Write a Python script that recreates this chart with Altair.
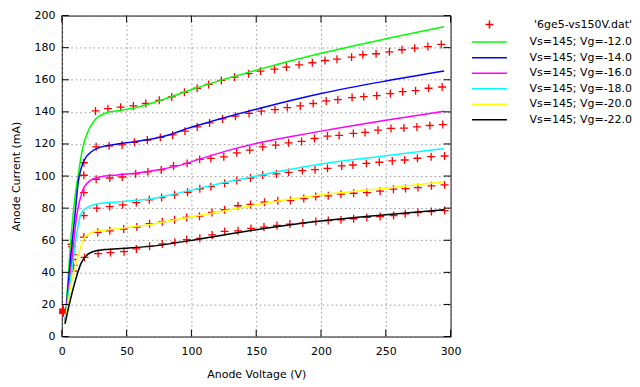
import altair as alt
import pandas as pd

DATA_LABEL = "'6ge5-vs150V.dat'"
MODEL_LABELS = ["Vs=145; Vg=-12.0", "Vs=145; Vg=-14.0", "Vs=145; Vg=-16.0",
                "Vs=145; Vg=-18.0", "Vs=145; Vg=-20.0", "Vs=145; Vg=-22.0"]
COLORS = ["#ff0000", "#00ff00", "#0000ff", "#ff00ff", "#00ffff", "#ffff00", "#000000"]

X_TICKS = [0, 50, 100, 150, 200, 250, 300]
Y_TICKS = [0, 20, 40, 60, 80, 100, 120, 140, 160, 180, 200]

# measured points (anode voltage, anode current) for each grid voltage
G_X = [1, 7.5, 17, 26, 35.6, 45.4, 55.2, 64.8, 75.2, 84.8, 94.6, 104.4, 113.3, 123.1, 133.3, 144.1,
       153.3, 164.1, 173.3, 183.1, 193.3, 203.1, 212.3, 223.6, 232.3, 242.5, 252.8, 262.5, 272.3, 282.5, 292.8]
G_Y = [17, 57.5, 108.3, 140.6, 142, 142.9, 143.7, 145.2, 147.2, 149.3, 152.2, 154.7, 157.1, 159.6, 161.7, 163.8,
       165.4, 166.6, 167.9, 169.3, 170.6, 172, 172.8, 174.1, 175.6, 176.2, 177.4, 178.7, 179.7, 180.7, 182]
B_X = [1, 8, 17, 26.5, 36.5, 46.5, 56, 66, 76, 85.5, 95, 104.5, 114, 124, 134, 144.5, 154, 164.5, 174, 184,
       194, 204, 213, 224, 233, 243, 253.5, 263, 273, 283, 293.5]
B_Y = [16.5, 56, 100.5, 118.2, 118.8, 119.4, 121, 122.4, 124.1, 125.6, 128, 130.6, 133.1, 135.6, 137.3, 139,
       140.4, 141.4, 142.7, 143.7, 145.2, 146.8, 147.6, 148.9, 149.5, 150.1, 151.4, 152.6, 153.2, 154.7, 155.5]
M_X = [1, 8.5, 17, 26.5, 37, 46.6, 57, 66.4, 76.7, 86.2, 96.7, 106.4, 115, 125, 135, 145, 155, 165, 175, 185,
       195, 205, 214, 225, 234, 244, 254, 264, 274, 284, 294]
M_Y = [16, 51, 89.7, 98, 98.8, 99.4, 101.3, 102.6, 103.8, 106.3, 107.9, 110.4, 111, 112, 114.5, 116.2, 118.2,
       119.3, 120.7, 121.6, 123.4, 124.9, 125.3, 126.6, 127.2, 128.6, 129.7, 129.9, 130.6, 131.5, 132.1]
C_X = [1, 8.5, 17, 27, 37, 47, 57.5, 67.5, 77, 87, 97, 106.5, 115, 125.6, 135, 145.6, 155, 165.6, 175, 185.6,
       195.4, 205, 216, 224.6, 235, 245, 255, 264.6, 274.4, 285, 295.4]
C_Y = [15.5, 48, 75.4, 80, 81, 82.1, 83.5, 85.2, 86.6, 88.3, 89.9, 92.1, 93.4, 95.5, 97.3, 98.8, 100.6, 101.3,
       102.3, 103.4, 104, 104.8, 106.3, 106.9, 107.9, 108.6, 109.4, 110, 111.1, 112.1, 112.5]
Y_X = [1, 9, 17, 27.7, 37, 47.7, 57.9, 67.7, 77.5, 87, 96.4, 106.2, 115.9, 125.6, 135.9, 145.6, 156.4, 166.7,
       176.4, 186.7, 195.9, 205.6, 215.4, 225.2, 235.4, 245.6, 255.9, 265.2, 274.8, 285.2, 295.4]
Y_Y = [15, 44.4, 62, 64.9, 65.9, 67, 68.2, 70.3, 71.5, 72.8, 74.2, 75, 77.3, 79, 81.5, 82.3, 83.7, 84.6, 84.7,
       86, 87.2, 87.7, 88.7, 89.3, 89.7, 90.6, 91.8, 92.2, 92.8, 93.9, 94.5]
K_X = [1, 9, 17.5, 28, 37.5, 48, 57.5, 67.7, 77.5, 87.2, 96.4, 106.5, 116, 125.6, 136, 146, 156, 166, 176, 186,
       196, 205.6, 215.4, 225.2, 235.4, 245.6, 256, 265, 274.8, 285.2, 295.4]
K_Y = [14.5, 40.7, 49.3, 51.7, 52.3, 52.9, 54.6, 56.2, 57.7, 58.7, 60.4, 61.2, 63.3, 65.5, 65.9, 67.4, 68.2,
       69.2, 70.1, 70.7, 71.7, 72.3, 72.7, 73.4, 74.2, 74.8, 75.4, 76.5, 77.3, 77.9, 78.5]

# model curves
G_MX = [2.5, 5, 7.5, 10, 12.5, 16, 20, 25, 33, 46, 59, 71.5, 84, 97, 110, 150, 200, 250, 295]
G_MY = [8, 38, 66, 86, 100, 117, 127.5, 134.5, 139, 141, 143, 146, 149.3, 153, 156.5, 166, 176.5, 185.5, 193]
B_MX = [2.5, 5, 7.5, 9.8, 12.8, 15, 17.4, 22.5, 30, 42, 55, 71.5, 85, 97, 110, 150, 200, 250, 295]
B_MY = [8, 33, 55, 73, 97, 105, 110, 115, 118, 119.8, 121.3, 123.4, 126.2, 129.7, 132.8, 141.6, 151.4, 159.2, 165.4]
M_MX = [2.5, 5, 8, 11.8, 15.6, 20.8, 30, 43, 55, 70, 90, 110, 130, 150, 175, 200, 250, 295]
M_MY = [8, 28, 50, 77, 90, 96.5, 99.5, 100.7, 101.6, 103.3, 106.5, 111.5, 116.3, 120.3, 124.3, 128, 134.8, 140.4]
C_MX = [2.5, 5, 8, 12.3, 15, 20, 25, 30.4, 45, 55, 71.5, 80.5, 108, 150, 200, 250, 295]
C_MY = [8, 25, 43, 68, 76.9, 80.5, 82.3, 83.1, 84, 84.7, 86.2, 87.7, 92.8, 100, 107.5, 112.7, 117.2]
Y_MX = [2.5, 5, 8, 12.6, 15, 17.7, 25.4, 35, 46, 55, 71.5, 80.5, 110, 150, 200, 250, 295]
Y_MY = [8, 22, 36, 50, 57, 62, 65.5, 66.5, 67.5, 68.5, 70.3, 71.8, 76, 82.1, 88.3, 92.4, 96.5]
K_MX = [2.5, 4.9, 10, 15, 22.8, 33, 48.5, 71.5, 110, 150, 200, 250, 295]
K_MY = [8, 17, 33.5, 45.9, 52.5, 54.2, 55, 56.5, 61.3, 66.6, 72, 75.9, 79]

meas = [(G_X, G_Y), (B_X, B_Y), (M_X, M_Y), (C_X, C_Y), (Y_X, Y_Y), (K_X, K_Y)]
models = [(G_MX, G_MY), (B_MX, B_MY), (M_MX, M_MY), (C_MX, C_MY), (Y_MX, Y_MY), (K_MX, K_MY)]

pts_rows = []
for i, (xs_, ys_) in enumerate(meas):
    for x, y in zip(xs_, ys_):
        pts_rows.append({"va": x, "ia": y, "series": DATA_LABEL, "grp": i})
pts_df = pd.DataFrame(pts_rows)

line_rows = []
for lab, (xs_, ys_) in zip(MODEL_LABELS, models):
    for x, y in zip(xs_, ys_):
        line_rows.append({"va": x, "ia": y, "series": lab})
lines_df = pd.DataFrame(line_rows)

DOMAIN = [DATA_LABEL] + MODEL_LABELS
PLUS = "M-0.8,0H0.8M0,-0.8V0.8"
DASH = "M-3.5,0H3.5"
SHAPES = [PLUS] + [DASH] * 6

FONT = "DejaVu Sans"
W, H = 390, 322

xs = alt.Scale(domain=[0, 300], nice=False)
ys = alt.Scale(domain=[0, 200], nice=False)
cscale = alt.Scale(domain=DOMAIN, range=COLORS)
sscale = alt.Scale(domain=DOMAIN, range=SHAPES)

legend = alt.Legend(title=None, orient="none", legendX=423, legendY=3,
                    labelAlign="right", labelOffset=137, symbolSize=100,
                    symbolStrokeWidth=1.5, rowPadding=4.6, labelFont=FONT,
                    labelFontSize=11, labelColor="#000000", padding=0)

X_AXIS = alt.Axis(values=X_TICKS, tickCount=7, labelPadding=9, titlePadding=12,
                  labelFlush=False, labelOverlap=False)
Y_AXIS = alt.Axis(values=Y_TICKS, tickCount=11, labelPadding=7, titlePadding=12,
                  labelFlush=False, labelOverlap=False, labelSeparation=0)
X_TITLE = "Anode Voltage (V)"
Y_TITLE = "Anode Current (mA)"

X = alt.X("va:Q", scale=xs, title=X_TITLE, axis=X_AXIS)
Y = alt.Y("ia:Q", scale=ys, title=Y_TITLE, axis=Y_AXIS)

points = alt.Chart(pts_df).mark_point(filled=False, strokeWidth=1.3, size=100, opacity=1).encode(
    x=X, y=Y,
    color=alt.Color("series:N", scale=cscale, legend=legend),
    shape=alt.Shape("series:N", scale=sscale, legend=legend),
    detail="grp:N",
)

lines = alt.Chart(lines_df).mark_line(interpolate="monotone", strokeWidth=1.5).encode(
    x=X, y=Y,
    color=alt.Color("series:N", scale=cscale, legend=legend),
)

yt = pd.DataFrame({"v": Y_TICKS})
xt = pd.DataFrame({"v": X_TICKS})
YT = alt.Y("v:Q", scale=ys, title=Y_TITLE, axis=Y_AXIS)
XT = alt.X("v:Q", scale=xs, title=X_TITLE, axis=X_AXIS)
tick_l = alt.Chart(yt).mark_rule(color="black").encode(y=YT, x=alt.value(0), x2=alt.value(7))
tick_r = alt.Chart(yt).mark_rule(color="black").encode(y=YT, x=alt.value(W - 7), x2=alt.value(W))
tick_b = alt.Chart(xt).mark_rule(color="black").encode(x=XT, y=alt.value(H), y2=alt.value(H - 7))
tick_t = alt.Chart(xt).mark_rule(color="black").encode(x=XT, y=alt.value(0), y2=alt.value(7))

chart = alt.layer(points, lines, tick_l, tick_r, tick_b, tick_t).properties(
    width=W, height=H,
    padding={"left": 3, "top": 1, "right": 0, "bottom": 0},
).configure_view(
    stroke="black", strokeWidth=1
).configure_axis(
    grid=True, gridColor="#999999", gridDash=[1.5, 3], gridWidth=1,
    domain=False, ticks=False, labelOverlap=False,
    labelFont=FONT, labelFontSize=11, labelColor="#000000",
    titleFont=FONT, titleFontSize=11, titleFontWeight="normal", titleColor="#000000",
)

chart.save("out.html", embed_options={"renderer": "svg", "actions": False})
